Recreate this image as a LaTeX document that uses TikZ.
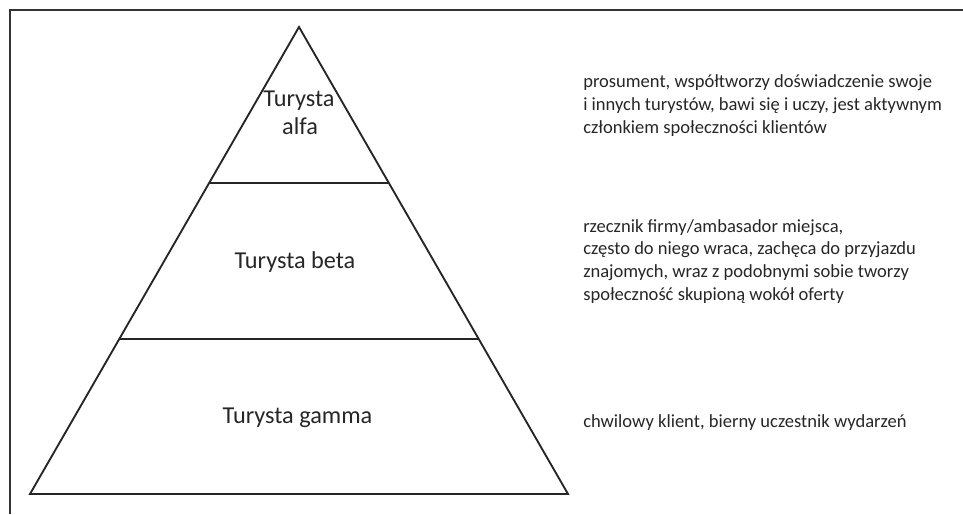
\documentclass[tikz,border=0pt]{standalone}
\usepackage{fontspec}
\setmainfont{Carlito}
\usetikzlibrary{calc}
\begin{document}
\begin{tikzpicture}[x=0.75pt,y=-0.75pt,
  edge/.style={line width=1.4pt,black!85,line join=miter},
  frameline/.style={line width=1.4pt,black!80},
  tier/.style={anchor=base,inner sep=0pt,text=black!85,font=\fontsize{18.2pt}{21pt}\selectfont},
  note/.style={anchor=base west,inner sep=0pt,align=left,text=black!85,font=\fontsize{13.9pt}{16.9pt}\selectfont}]
  \useasboundingbox (0,0) rectangle (963,514);
  % page frame (top and left rules)
  \coordinate (fb) at (10,514);
  \coordinate (fc) at (10,10);
  \coordinate (fr) at (963,10);
  \draw[frameline] (fb) -- (fc) -- (fr);
  % pyramid
  \coordinate (apex) at (299,27);
  \coordinate (bl) at (30,494);
  \coordinate (br) at (568,494);
  \draw[edge] (apex) -- (bl) -- (br) -- cycle;
  \coordinate (d1l) at ($(apex)!0.334!(bl)$);
  \coordinate (d1r) at ($(apex)!0.334!(br)$);
  \coordinate (d2l) at ($(apex)!0.668!(bl)$);
  \coordinate (d2r) at ($(apex)!0.668!(br)$);
  \draw[edge] (d1l) -- (d1r);
  \draw[edge] (d2l) -- (d2r);
  % tier labels
  \node[tier] (alfa1) at (299,106) {Turysta};
  \node[tier] (alfa2) at (300,134) {alfa};
  \node[tier] (beta) at (295,268) {Turysta beta};
  \node[tier] (gamma) at (297.5,423) {Turysta gamma};
  % descriptions (base anchor sits on the last line)
  \node[note] (nalfa) at (583,133) {prosument, współtworzy doświadczenie swoje\\i innych turystów, bawi się i uczy, jest aktywnym\\członkiem społeczności klientów};
  \node[note] (nbeta) at (583,300) {rzecznik firmy/ambasador miejsca,\\często do niego wraca, zachęca do przyjazdu\\znajomych, wraz z podobnymi sobie tworzy\\społeczność skupioną wokół oferty};
  \node[note] (ngamma) at (583,427) {chwilowy klient, bierny uczestnik wydarzeń};
\end{tikzpicture}
\end{document}
